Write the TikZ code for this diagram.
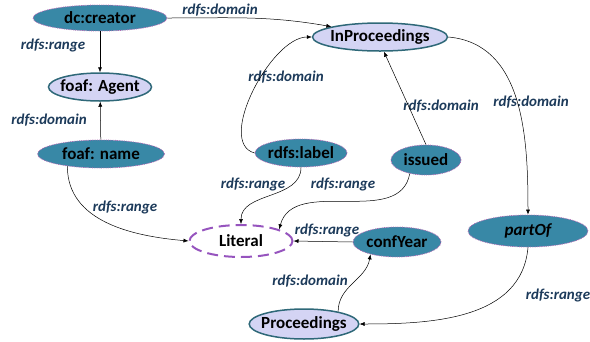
\documentclass[tikz,border=0pt]{standalone}
\usepackage{fontspec}
\setmainfont{Carlito}
\usetikzlibrary{shapes.geometric,arrows.meta}
\definecolor{propfill}{RGB}{56,136,166}
\definecolor{clsfill}{RGB}{212,212,244}
\definecolor{clsline}{RGB}{46,104,120}
\definecolor{litline}{RGB}{150,84,190}
\definecolor{lblcol}{RGB}{28,58,90}
\begin{document}
\begin{tikzpicture}[x=1pt,y=-1pt,
    prop/.style={ellipse,fill=propfill,draw=violet!60,densely dotted,line width=0.8pt,
      inner xsep=-4pt,inner ysep=-2pt,font=\fontsize{17}{19}\selectfont\bfseries},
    cls/.style={ellipse,fill=clsfill,draw=clsline,line width=1.5pt,
      inner xsep=-4pt,inner ysep=-2pt,font=\fontsize{17}{19}\selectfont\bfseries},
    lit/.style={ellipse,draw=litline,line width=2pt,dash pattern=on 11pt off 6pt,
      inner xsep=-4pt,inner ysep=-2pt,font=\fontsize{17}{19}\selectfont\bfseries},
    lbl/.style={text=lblcol,font=\fontsize{15}{17}\selectfont\bfseries\itshape}]
  \useasboundingbox (0,0) rectangle (590,341);
  \draw
    (100,18) node[prop,minimum width=134,minimum height=26] (creator){dc:creator}
    (100,87) node[cls,minimum width=103,minimum height=28] (agent){foaf: Agent}
    (101,154) node[prop,minimum width=127,minimum height=28] (name){foaf: name}
    (380,37) node[cls,minimum width=135,minimum height=28] (inproc){InProceedings}
    (301,153) node[prop,minimum width=92,minimum height=28] (label){rdfs:label}
    (426,160) node[prop,minimum width=70,minimum height=30] (issued){issued}
    (241,241) node[lit,minimum width=103,minimum height=32] (literal){Literal}
    (397,242) node[prop,minimum width=88,minimum height=30] (confyear){confYear}
    (528,231) node[prop,minimum width=120,minimum height=32] (partof){\itshape partOf}
    (304,324) node[cls,minimum width=104,minimum height=30] (proc){Proceedings};
  \draw
    (220,10) node[lbl] (l1){rdfs:domain}
    (53,45) node[lbl] (l2){rdfs:range}
    (49,120) node[lbl] (l3){rdfs:domain}
    (286,77) node[lbl] (l4){rdfs:domain}
    (441,106) node[lbl] (l5){rdfs:domain}
    (531,102) node[lbl] (l6){rdfs:domain}
    (125,207) node[lbl] (l7){rdfs:range}
    (253,184) node[lbl] (l8){rdfs:range}
    (343,184) node[lbl] (l9){rdfs:range}
    (327,230) node[lbl] (l10){rdfs:range}
    (310,281) node[lbl] (l11){rdfs:domain}
    (558,295) node[lbl] (l12){rdfs:range};
  \begin{scope}[-{Latex[length=5pt,width=4pt]},line width=0.5pt]
    \draw (creator) to (agent);
    \draw (name) to (agent);
    \draw (creator.east) to[out=0,in=170] (inproc.168);
    \draw (label.west) to[out=165,in=180,looseness=0.8] (inproc.west);
    \draw (issued.north) to[shorten >=10pt] (inproc.285);
    \draw (inproc.east) to[out=-5,in=90] (partof.north);
    \draw (name.200) to[out=-90,in=175] (literal.west);
    \draw (label.south) to[out=-90,in=90] (literal.north);
    \draw (issued.220) to[out=-100,in=75] (literal.17);
    \draw (confyear.west) to (literal.east);
    \draw (proc.20) to[out=90,in=-100] (confyear.205);
    \draw (partof.south) to[out=-95,in=0] (proc.east);
  \end{scope}
\end{tikzpicture}
\end{document}
